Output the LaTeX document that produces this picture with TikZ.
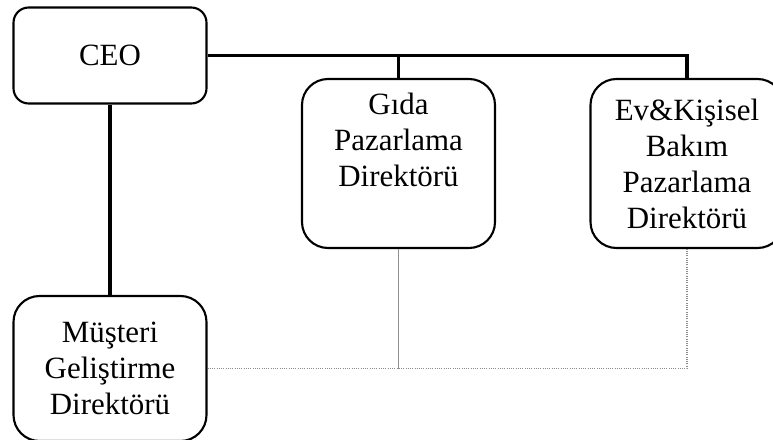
\documentclass[tikz,border=0pt]{standalone}
\usepackage{fontspec}
\setmainfont{Liberation Serif}
\usetikzlibrary{positioning}
\definecolor{orgBlack}{HTML}{000000}
\definecolor{orgGray}{HTML}{909090}
\definecolor{orgDot}{HTML}{8C8C8C}
\definecolor{orgWhite}{HTML}{FFFFFF}
\tikzset{
  org-box/.style={
    draw=orgBlack, line width=1.5pt, rounded corners=0.65cm,
    fill=orgWhite, font=\fontsize{22}{25.6}\selectfont, align=center,
    inner sep=0pt, minimum width=4.825cm
  },
  org-ceo/.style={org-box, rounded corners=0.38cm, minimum height=2.4cm},
  org-unit/.style={org-box, minimum height=4.225cm},
  org-line/.style={line width=2.4pt, draw=orgBlack},
  org-gray/.style={line width=1.1pt, draw=orgGray},
  org-dot/.style={line width=0.8pt, draw=orgDot, dash pattern=on 0.7pt off 0.9pt}
}
\begin{document}
\begin{tikzpicture}
\useasboundingbox (0,0) rectangle (19.325,-10.975);

% CEO
\node[org-ceo] (ceo) at (2.75,-1.3875) {CEO};

% Directors
\node[org-unit] (gida) at (9.9625,-4.0875)
  {Gıda\\Pazarlama\\Direktörü\\\strut};
\node[org-unit] (ev) at (17.175,-4.0875)
  {Ev\&Kişisel\\Bakım\\Pazarlama\\Direktörü};
\node[org-box, minimum height=3.625cm] (mus) at (2.75,-9.2125)
  {Müşteri\\Geliştirme\\Direktörü};

% Line relations
\draw[org-line] (ceo.east) -| (ev.north);
\draw[org-line] (gida.north) -- (gida.north |- ceo.east);
\draw[org-line] (ceo.south) -- (mus.north);

% Staff relations
\draw[org-gray] (gida.south) -- (gida.south |- mus.east);
\draw[org-dot] (mus.east) -| (ev.south);
\end{tikzpicture}
\end{document}
